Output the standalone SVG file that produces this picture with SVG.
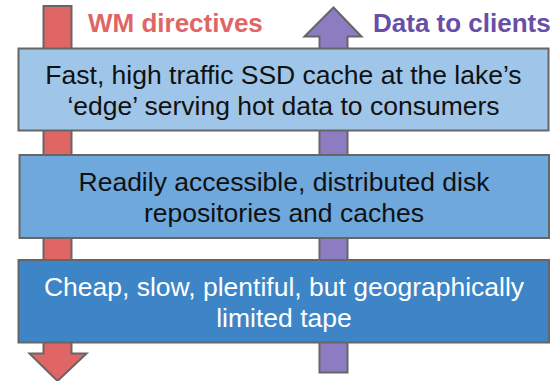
<svg xmlns="http://www.w3.org/2000/svg" width="556" height="381" viewBox="0 0 556 381">
  <style>
    .tier { stroke: #666666; stroke-width: 2; }
    .arrow { stroke: #666666; stroke-width: 2; stroke-linejoin: miter; }
    .tier-text { font-family: "Liberation Sans", Arial, sans-serif; font-size: 26.5px; text-anchor: middle; }
    .title { font-family: "Liberation Sans", Arial, sans-serif; font-size: 26px; font-weight: bold; }
  </style>
  <rect width="556" height="381" fill="#ffffff"/>

  <!-- flow arrows running through all storage tiers -->
  <g id="connectors">
    <polygon id="wm-arrow" class="arrow" fill="#e06666"
             points="43.5,6 71.5,6 71.5,353.5 86.5,353.5 57.5,381 29.5,353.5 43.5,353.5"/>
    <polygon id="data-arrow" class="arrow" fill="#8e7cc3"
             points="333.5,7.5 361.5,36.5 347.5,36.5 347.5,372.5 319.5,372.5 319.5,36.5 304.5,36.5"/>
    <text class="title" x="88" y="32" fill="#e06666">WM directives</text>
    <text class="title" x="373" y="32" fill="#674ea7">Data to clients</text>
  </g>

  <!-- storage tiers, hottest on top -->
  <g id="tier-ssd">
    <rect class="tier" x="18.5" y="48.5" width="530" height="82" fill="#9fc5e8"/>
    <text class="tier-text" x="283.5" y="84" fill="#111111">Fast, high traffic SSD cache at the lake’s</text>
    <text class="tier-text" x="283.5" y="115" fill="#111111">‘edge’ serving hot data to consumers</text>
  </g>

  <g id="tier-disk">
    <rect class="tier" x="19.5" y="155" width="529.5" height="83" fill="#6fa8dc"/>
    <text class="tier-text" x="284" y="190.7" fill="#111111">Readily accessible, distributed disk</text>
    <text class="tier-text" x="284" y="221.7" fill="#111111">repositories and caches</text>
  </g>

  <g id="tier-tape">
    <rect class="tier" x="18.5" y="260" width="530.5" height="82.5" fill="#3d85c6"/>
    <text class="tier-text" x="284" y="295.5" fill="#ffffff">Cheap, slow, plentiful, but geographically</text>
    <text class="tier-text" x="284" y="326.5" fill="#ffffff">limited tape</text>
  </g>
</svg>
